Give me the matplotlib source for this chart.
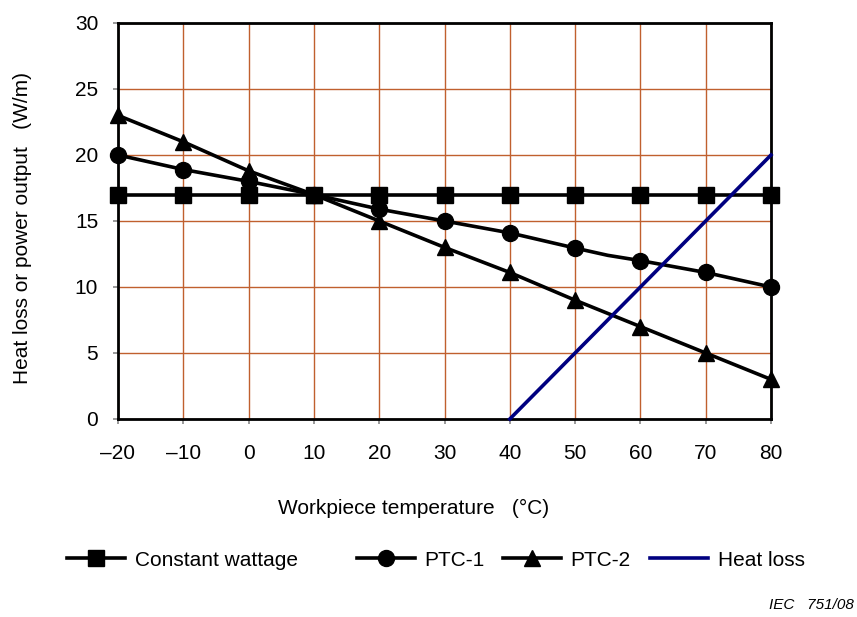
import matplotlib
matplotlib.use("Agg")
import matplotlib.pyplot as plt

plt.rcParams['font.family'] = ['Liberation Sans', 'DejaVu Sans']

temps = [-20, -10, 0, 10, 20, 30, 40, 50, 60, 70, 80]
const_w = [17, 17, 17, 17, 17, 17, 17, 17, 17, 17, 17]
ptc1_x = [-20, -10, 0, 10, 20, 30, 40, 50, 55, 60, 70, 80]
ptc1_y = [20, 18.9, 18, 17, 15.9, 15, 14.1, 12.95, 12.4, 12, 11.1, 10]
ptc1_marked = [0, 1, 2, 3, 4, 5, 6, 7, 9, 10, 11]
ptc2 = [23, 21, 18.8, 17, 15, 13, 11.1, 9, 7, 5, 3]
loss_x = [40, 80]
loss_y = [0, 20]
xticks = [-20, -10, 0, 10, 20, 30, 40, 50, 60, 70, 80]
xticklabels = ['\u201320', '\u201310', '0', '10', '20', '30', '40', '50', '60', '70', '80']
yticks = [0, 5, 10, 15, 20, 25, 30]

W, H = 857, 617
fig = plt.figure(figsize=(W/100, H/100), dpi=100)
ax = fig.add_axes([118/W, 1-419/H, (771-118)/W, (419-23)/H])

grid_c = '#c0602e'
lw = 2.6
fs = 15
l1, = ax.plot(temps, const_w, color='black', lw=lw, marker='s', ms=11, clip_on=False, zorder=4)
l2, = ax.plot(ptc1_x, ptc1_y, color='black', lw=lw, marker='o', ms=11.5, markevery=ptc1_marked, clip_on=False, zorder=4)
l3, = ax.plot(temps, ptc2, color='black', lw=lw, marker='^', ms=11, clip_on=False, zorder=4)
l4, = ax.plot(loss_x, loss_y, color='#000080', lw=lw, clip_on=False, zorder=5)

ax.set_xlim(-20, 80)
ax.set_ylim(0, 30)
ax.set_xticks(xticks)
ax.set_xticklabels(xticklabels)
ax.set_yticks(yticks)
ax.grid(True, color=grid_c, lw=1.0)
ax.set_axisbelow(True)
for s in ax.spines.values():
    s.set_color('black')
    s.set_linewidth(2.0)
ax.tick_params(axis='both', direction='out', length=3.8, width=1.2, color='#888888',
               labelsize=fs)
ax.tick_params(axis='y', pad=10.5)
ax.tick_params(axis='x', pad=14)

fig.text(23/W, 1-228/H, 'Heat loss or power output   (W/m)', fontsize=fs,
         rotation=90, ha='center', va='center')
fig.text(414/W, 1-508/H, 'Workpiece temperature   (\u00b0C)', fontsize=fs,
         ha='center', va='center')

entries = [
    (l1, 'Constant wattage', 67),
    (l2, 'PTC-1', 357),
    (l3, 'PTC-2', 503),
    (l4, 'Heat loss', 650),
]
for h, lab, xpx in entries:
    fig.legend([h], [lab], loc='center left', bbox_to_anchor=(xpx/W, 1-560/H),
               frameon=False, fontsize=fs, handlelength=2.8, handletextpad=0.45,
               borderpad=0, borderaxespad=0)

fig.text(769/W, 1-605/H, 'IEC   751/08', fontsize=11, style='italic', ha='left', va='center')

fig.savefig('out.png', dpi=100)
